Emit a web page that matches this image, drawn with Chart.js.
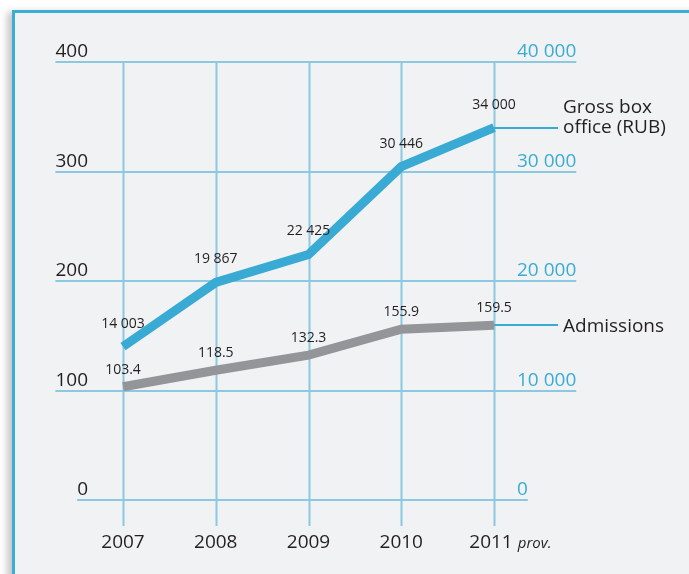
<!DOCTYPE html>
<html>
<head>
<meta charset="utf-8">
<script src="https://cdn.jsdelivr.net/npm/chart.js@4.4.0/dist/chart.umd.min.js"></script>
<style>
  html, body { margin: 0; padding: 0; background: #fff; overflow: hidden; }
  #frame {
    position: absolute; left: 12px; top: 10px; width: 720px; height: 600px;
    background: #f1f2f4;
    border-left: 3px solid #3dadd5; border-top: 3px solid #3dadd5;
    box-shadow: -5px 2px 7px rgba(0, 0, 0, 0.22);
  }
  #chart { position: absolute; left: 0; top: 0; }
</style>
</head>
<body>
<div id="frame"></div>
<canvas id="chart" width="689" height="574"></canvas>
<script>
const YEARS = ['2007', '2008', '2009', '2010', '2011'];
const ADMISSIONS = [103.4, 118.5, 132.3, 155.9, 159.5];
const BOX_OFFICE = [14003, 19867, 22425, 30446, 34000];
const LEFT_TICKS = [0, 100, 200, 300, 400];
const RIGHT_TICKS = [0, 10000, 20000, 30000, 40000];

const BLUE = '#38aad3';
const GREY = '#949598';
const GRID = '#8cc8e0';
const TEXT = '#231f20';
const FONT = '"Open Sans", sans-serif';

const fmt = (n) => String(n).replace(/\B(?=(\d{3})+(?!\d))/g, ' ');

const decorPlugin = {
  id: 'decor',
  beforeDatasetsDraw(chart) {
    const ctx = chart.ctx;
    const yL = chart.scales.y;
    const x = chart.scales.x;
    const top = yL.getPixelForValue(400);
    ctx.save();
    ctx.font = '19px ' + FONT;
    ctx.strokeStyle = GRID;
    ctx.lineWidth = 2;
    // vertical lines
    YEARS.forEach((y, i) => {
      const px = Math.round(x.getPixelForValue(i)) + 0.5;
      ctx.beginPath();
      ctx.moveTo(px, top);
      ctx.lineTo(px, 526);
      ctx.stroke();
    });
    // horizontal lines with both tick labels
    LEFT_TICKS.forEach((v, i) => {
      const py = Math.round(yL.getPixelForValue(v));
      const leftTxt = String(v);
      const rightTxt = fmt(RIGHT_TICKS[i]);
      const lw = ctx.measureText(leftTxt).width;
      const rw = ctx.measureText(rightTxt).width;
      ctx.beginPath();
      ctx.moveTo(88 - lw, py);
      ctx.lineTo(517 + rw, py);
      ctx.stroke();
      ctx.textBaseline = 'alphabetic';
      ctx.fillStyle = TEXT;
      ctx.textAlign = 'right';
      ctx.fillText(leftTxt, 88, py - 5);
      ctx.fillStyle = '#3aacd4';
      ctx.textAlign = 'left';
      ctx.fillText(rightTxt, 517, py - 5);
    });
    // x labels
    ctx.fillStyle = TEXT;
    ctx.textAlign = 'center';
    YEARS.forEach((y, i) => {
      ctx.fillText(y, x.getPixelForValue(i) - (i === 4 ? 3 : 0), 548);
    });
    const lastX = x.getPixelForValue(4) - 3 + ctx.measureText('2011').width / 2;
    ctx.font = 'italic 15px ' + FONT;
    ctx.textAlign = 'left';
    ctx.fillText('prov.', lastX + 5, 548);
    ctx.restore();
  },
  afterDatasetsDraw(chart) {
    const ctx = chart.ctx;
    ctx.save();
    // legend connector lines and labels
    const meta0 = chart.getDatasetMeta(0).data;
    const meta1 = chart.getDatasetMeta(1).data;
    ctx.strokeStyle = BLUE;
    ctx.lineWidth = 2;
    [meta0[4], meta1[4]].forEach((p) => {
      ctx.beginPath();
      ctx.moveTo(p.x, Math.round(p.y));
      ctx.lineTo(558, Math.round(p.y));
      ctx.stroke();
    });
    ctx.fillStyle = TEXT;
    ctx.font = '19px ' + FONT;
    ctx.textAlign = 'left';
    ctx.fillText('Gross box', 563, 113);
    ctx.fillText('office (RUB)', 563, 133);
    ctx.fillText('Admissions', 563, 332);
    // data labels
    ctx.font = '14px ' + FONT;
    ctx.textAlign = 'center';
    meta0.forEach((p, i) => {
      ctx.fillText(fmt(BOX_OFFICE[i]), p.x, p.y - 19);
    });
    meta1.forEach((p, i) => {
      ctx.fillText(String(ADMISSIONS[i]), p.x, p.y - 13);
    });
    ctx.restore();
  }
};

new Chart(document.getElementById('chart'), {
  type: 'line',
  data: {
    labels: YEARS,
    datasets: [{
      label: 'Gross box office (RUB)',
      data: BOX_OFFICE,
      yAxisID: 'y2',
      borderColor: BLUE,
      borderWidth: 9,
      borderCapStyle: 'butt',
      borderJoinStyle: 'miter',
      pointRadius: 0,
      tension: 0
    }, {
      label: 'Admissions',
      data: ADMISSIONS,
      yAxisID: 'y',
      borderColor: GREY,
      borderWidth: 9,
      borderCapStyle: 'butt',
      borderJoinStyle: 'miter',
      pointRadius: 0,
      tension: 0
    }]
  },
  options: {
    responsive: false,
    animation: false,
    layout: { padding: { left: 123, right: 195, top: 62, bottom: 74 } },
    scales: {
      x: { display: false, offset: false },
      y: { display: false, min: 0, max: 400 },
      y2: { display: false, min: 0, max: 40000, position: 'right' }
    },
    plugins: { legend: { display: false }, tooltip: { enabled: false } }
  },
  plugins: [decorPlugin]
});
</script>
</body>
</html>
